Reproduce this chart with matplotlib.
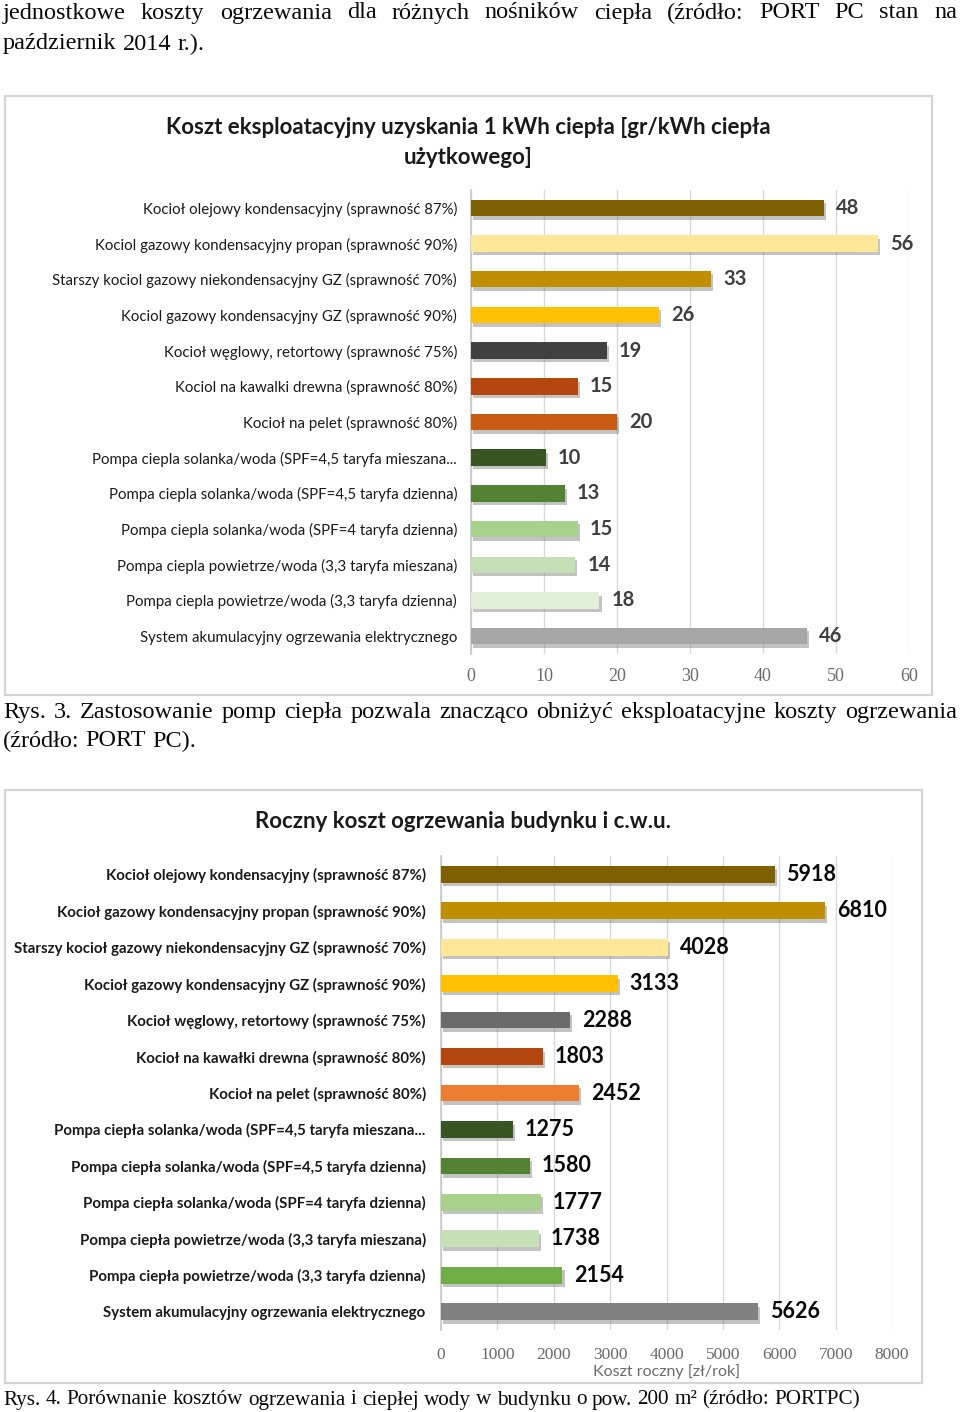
import matplotlib
matplotlib.use('Agg')
import matplotlib.pyplot as plt
import matplotlib.patheffects as pe
from matplotlib.patches import Rectangle

W, H = 960, 1412
SANS = ['Lato', 'DejaVu Sans']
SERIF = ['Liberation Serif', 'DejaVu Serif']

# --- chart 1: unit cost [gr/kWh]
labels_1 = [
    'Kocioł olejowy kondensacyjny (sprawność 87%)',
    'Kociol gazowy kondensacyjny propan (sprawność 90%)',
    'Starszy kociol gazowy niekondensacyjny GZ (sprawność 70%)',
    'Kociol gazowy kondensacyjny GZ (sprawność 90%)',
    'Kocioł węglowy, retortowy (sprawność 75%)',
    'Kociol na kawalki drewna (sprawność 80%)',
    'Kocioł na pelet (sprawność 80%)',
    'Pompa ciepla solanka/woda (SPF=4,5 taryfa mieszana...',
    'Pompa ciepla solanka/woda (SPF=4,5 taryfa dzienna)',
    'Pompa ciepla solanka/woda (SPF=4 taryfa dzienna)',
    'Pompa ciepla powietrze/woda (3,3 taryfa mieszana)',
    'Pompa ciepla powietrze/woda (3,3 taryfa dzienna)',
    'System akumulacyjny ogrzewania elektrycznego',
]
values_1 = [48.4, 55.8, 32.9, 25.8, 18.6, 14.6, 20.0, 10.3, 12.9, 14.6, 14.3, 17.6, 46.0]
colors_1 = ['#7f6000', '#ffe699', '#bf8f00', '#ffc000', '#404040', '#b3470f', '#c85a12',
            '#375623', '#548235', '#a9d18e', '#c5e0b4', '#e2f0d9', '#a6a6a6']
ticks_1 = [0, 10, 20, 30, 40, 50, 60]

# --- chart 2: yearly cost [zł/rok]
labels_2 = [
    'Kocioł olejowy kondensacyjny (sprawność 87%)',
    'Kocioł gazowy kondensacyjny propan (sprawność 90%)',
    'Starszy kocioł gazowy niekondensacyjny GZ (sprawność 70%)',
    'Kocioł gazowy kondensacyjny GZ (sprawność 90%)',
    'Kocioł węglowy, retortowy (sprawność 75%)',
    'Kocioł na kawałki drewna (sprawność 80%)',
    'Kocioł na pelet (sprawność 80%)',
    'Pompa ciepła solanka/woda (SPF=4,5 taryfa mieszana...',
    'Pompa ciepła solanka/woda (SPF=4,5 taryfa dzienna)',
    'Pompa ciepła solanka/woda (SPF=4 taryfa dzienna)',
    'Pompa ciepła powietrze/woda (3,3 taryfa mieszana)',
    'Pompa ciepła powietrze/woda (3,3 taryfa dzienna)',
    'System akumulacyjny ogrzewania elektrycznego',
]
values_2 = [5918, 6810, 4028, 3133, 2288, 1803, 2452, 1275, 1580, 1777, 1738, 2154, 5626]
colors_2 = ['#7f6000', '#bf8f00', '#ffe699', '#ffc000', '#6b6b6b', '#b3470f', '#ed7d31',
            '#375623', '#548235', '#a9d18e', '#c5e0b4', '#70ad47', '#808080']
ticks_2 = [0, 1000, 2000, 3000, 4000, 5000, 6000, 7000, 8000]

text_top = [
    'jednostkowe koszty ogrzewania dla różnych nośników ciepła (źródło: PORT PC stan na',
    'październik 2014 r.).',
]
caption_3 = ['Rys. 3. Zastosowanie pomp ciepła pozwala znacząco obniżyć eksploatacyjne koszty ogrzewania',
             '(źródło: PORT PC).']
caption_4 = 'Rys. 4. Porównanie kosztów ogrzewania i ciepłej wody w budynku o pow. 200 m² (źródło: PORTPC)'


def fy(y):
    return 1 - y / H


def rect(x0, y0, x1, y1):
    return [x0 / W, 1 - y1 / H, (x1 - x0) / W, (y1 - y0) / H]


def put_line(fig, text, y, x0, x1=None, size=17.5):
    words = text.split()
    r = fig.canvas.get_renderer()
    objs = [fig.text(x0 / W, fy(y), w, fontsize=size, family=SERIF, va='center', color='#0a0a0a')
            for w in words]
    widths = [o.get_window_extent(r).width for o in objs]
    if x1 is None:
        space = size * 100 / 72 * 0.25
    else:
        space = (x1 - x0 - sum(widths)) / (len(words) - 1)
    x = x0
    for o, w in zip(objs, widths):
        o.set_x(x / W)
        x += w + space


def draw_box(fig, x0, y0, x1, y1):
    fig.patches.append(Rectangle((x0 / W, fy(y1)), (x1 - x0) / W, (y1 - y0) / H,
                                 transform=fig.transFigure, fill=False,
                                 edgecolor='#d4d4d4', linewidth=1.6))


def bar_chart(ax, labels, values, colors, ticks, label_weight, val_color, val_size,
              tick_size, tick_pad, ypad):
    ys = list(range(len(values)))
    bars = ax.barh(ys, values, height=0.46, color=colors, zorder=3)
    for b in bars:
        b.set_path_effects([pe.SimplePatchShadow(offset=(1.5, -2.5), shadow_rgbFace='#7a7a7a', alpha=0.45),
                            pe.Normal()])
    for y, v in zip(ys, values):
        ax.annotate(f'{v:.0f}', (v, y), xytext=(8.5, 0), textcoords='offset points',
                    va='center', ha='left', fontsize=val_size, fontweight='bold',
                    family=SANS, color=val_color)
    ax.set_xlim(ticks[0], ticks[-1])
    ax.set_ylim(len(values) - 0.5, -0.5)
    ax.set_xticks(ticks)
    ax.set_yticks(ys)
    ax.set_yticklabels(labels, family=SANS, fontsize=10.8, fontweight=label_weight, color='#1a1a1a')
    ax.tick_params(axis='y', length=0, pad=ypad)
    ax.tick_params(axis='x', length=0, pad=tick_pad, labelsize=tick_size, labelcolor='#6a6a6a')
    for t in ax.get_xticklabels():
        t.set_family(SERIF)
    ax.grid(axis='x', color='#d9d9d9', linewidth=1, zorder=0)
    ax.set_axisbelow(True)
    for s in ['top', 'right', 'bottom']:
        ax.spines[s].set_visible(False)
    ax.spines['left'].set_color('#c8c8c8')
    ax.spines['left'].set_linewidth(1.2)


def main():
    fig = plt.figure(figsize=(W / 100, H / 100), dpi=100, facecolor='white')

    put_line(fig, text_top[0], 13, 3, 957)
    put_line(fig, text_top[1], 44, 3)

    # chart 1
    draw_box(fig, 5, 96, 932, 695)
    fig.text(468 / W, fy(128), 'Koszt eksploatacyjny uzyskania 1 kWh ciepła [gr/kWh ciepła',
             ha='center', va='center', fontsize=16, fontweight='bold', family=SANS, color='#1a1a1a')
    fig.text(468 / W, fy(158), 'użytkowego]',
             ha='center', va='center', fontsize=16, fontweight='bold', family=SANS, color='#1a1a1a')
    ax1 = fig.add_axes(rect(471, 190, 909, 654))
    bar_chart(ax1, labels_1, values_1, colors_1, ticks_1, 'normal', '#3f3f3f', 14.5, 13, 10, 10)

    put_line(fig, caption_3[0], 713, 3, 957)
    put_line(fig, caption_3[1], 741, 3)

    # chart 2
    draw_box(fig, 5, 790, 922, 1383)
    fig.text(463 / W, fy(822), 'Roczny koszt ogrzewania budynku i c.w.u.',
             ha='center', va='center', fontsize=16, fontweight='bold', family=SANS, color='#1a1a1a')
    ax2 = fig.add_axes(rect(441, 856, 892, 1330))
    bar_chart(ax2, labels_2, values_2, colors_2, ticks_2, 'bold', '#0a0a0a', 15.5, 12.5, 12, 11)
    ax2.set_xlabel('Koszt roczny [zł/rok]', family=SANS, fontsize=11.5, color='#6a6a6a', labelpad=1)

    put_line(fig, caption_4, 1400, 3, size=15.2)

    fig.savefig('out.png', dpi=100, facecolor='white')
    plt.close(fig)
    return 0


if __name__ == '__main__':
    raise SystemExit(main())
